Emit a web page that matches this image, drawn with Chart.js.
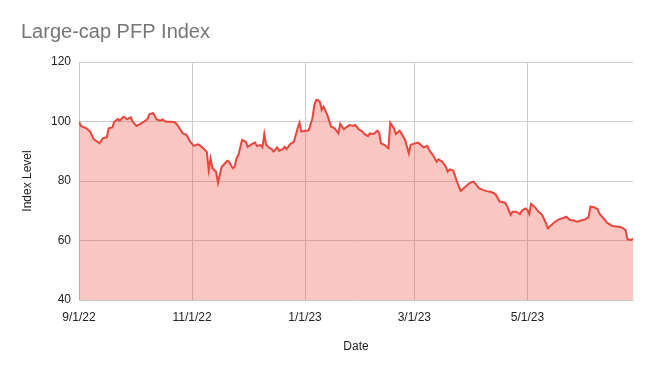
<!DOCTYPE html>
<html lang="en">
<head>
  <meta charset="UTF-8">
  <title>Large-cap PFP Index</title>
  <script src="https://cdn.jsdelivr.net/npm/chart.js"></script>
  <style>
    * { margin: 0; padding: 0; box-sizing: border-box; }
    body { background: #ffffff; width: 652px; height: 371px; overflow: hidden; }
    canvas { display: block; }
  </style>
</head>
<body>
  <canvas id="pfpChart" width="652" height="371"></canvas>

  <script>
    // Chart text
    const chartTitle = 'Large-cap PFP Index';
    const xAxisTitle = 'Date';
    const yAxisTitle = 'Index Level';

    // X ticks: days since 9/1/22 and their labels
    const tickDays = [0, 61, 122, 181, 242];
    const tickLabels = ['9/1/22', '11/1/22', '1/1/23', '3/1/23', '5/1/23'];

    // Series: day offset from 9/1/22 and index level
    const dayOffsets = [
      0, 1, 4, 6, 8, 10, 11, 13, 15, 16, 18, 19, 21, 22, 24, 26, 28, 29, 31, 33,
      35, 37, 38, 40, 42, 44, 45, 47, 50, 52, 54, 56, 58, 60, 62, 64, 65, 67, 69, 70,
      71, 72, 74, 75, 77, 78, 80, 81, 83, 84, 85, 86, 88, 90, 91, 93, 95, 96, 98, 99,
      100, 101, 103, 104, 105, 107, 108, 110, 111, 112, 114, 116, 117, 118, 119, 120, 122, 123, 124, 126,
      127, 128, 129, 130, 131, 132, 134, 135, 136, 138, 140, 141, 143, 144, 146, 148, 149, 151, 153, 154,
      156, 157, 159, 161, 162, 163, 165, 167, 168, 170, 171, 173, 174, 176, 178, 179, 180, 183, 184, 186,
      188, 189, 191, 193, 194, 196, 198, 199, 200, 202, 204, 206, 207, 209, 211, 213, 215, 216, 218, 220,
      222, 224, 225, 227, 230, 231, 233, 234, 236, 238, 239, 241, 242, 243, 244, 246, 248, 250, 252, 253,
      255, 257, 259, 261, 263, 265, 267, 269, 271, 273, 275, 276, 278, 280, 281, 283, 285, 287, 288, 291,
      293, 295, 296, 298, 299
    ];
    const indexLevels = [
      100.0, 98.5, 97.7, 96.6, 94.0, 93.2, 92.7, 94.4, 94.7, 97.7, 98.0, 99.9, 100.8, 100.3, 101.6, 100.8, 101.4, 99.9, 98.5, 99.1,
      99.9, 100.8, 102.5, 102.8, 100.7, 100.3, 100.7, 99.9, 99.9, 99.7, 98.0, 96.0, 95.5, 93.2, 91.8, 92.3, 92.1, 91.0, 89.8, 83.7,
      87.6, 84.3, 83.1, 79.4, 84.8, 85.4, 86.8, 86.5, 84.3, 84.8, 87.6, 88.7, 93.8, 93.2, 91.5, 92.3, 92.9, 91.8, 92.1, 91.3,
      95.8, 92.1, 91.0, 90.7, 89.9, 91.3, 90.2, 90.7, 91.5, 90.7, 92.4, 93.2, 95.5, 97.7, 99.6, 96.6, 96.9, 96.9, 97.1, 101.1,
      105.5, 107.2, 107.2, 106.6, 103.9, 105.0, 102.2, 100.3, 98.3, 97.7, 96.0, 99.2, 97.4, 98.0, 98.8, 98.5, 98.8, 97.4, 96.6, 95.8,
      95.1, 96.0, 95.8, 96.9, 96.2, 92.7, 92.1, 91.0, 99.6, 97.7, 95.8, 96.9, 96.0, 93.8, 89.3, 92.1, 92.4, 92.9, 92.4, 91.3,
      91.8, 90.4, 88.7, 86.5, 87.3, 86.5, 84.8, 83.1, 83.9, 83.5, 79.8, 76.7, 77.2, 78.3, 79.4, 79.8, 78.3, 77.5, 77.0, 76.6,
      76.4, 75.9, 75.3, 73.1, 72.7, 71.6, 68.6, 69.7, 69.7, 68.9, 70.0, 70.8, 70.3, 68.9, 72.3, 71.2, 69.7, 68.6, 65.8, 64.1,
      65.2, 66.3, 67.1, 67.5, 68.0, 66.9, 66.7, 66.3, 66.7, 67.1, 67.8, 71.4, 71.2, 70.5, 68.9, 67.5, 66.0, 65.2, 64.9, 64.6,
      64.4, 63.5, 60.4, 60.2, 60.7
    ];

    const fontFamily = '"Liberation Sans", Arial, sans-serif';

    // Draw the chart title in the top-left corner
    const titlePlugin = {
      id: 'sheetTitle',
      afterDraw(chart) {
        const ctx = chart.ctx;
        ctx.save();
        ctx.font = '20px ' + fontFamily;
        ctx.fillStyle = '#757575';
        ctx.textAlign = 'left';
        ctx.textBaseline = 'alphabetic';
        ctx.fillText(chartTitle, 21, 38);
        ctx.restore();
      }
    };

    const ctx = document.getElementById('pfpChart').getContext('2d');
    new Chart(ctx, {
      type: 'line',
      data: {
        datasets: [{
          label: yAxisTitle,
          data: dayOffsets.map((d, i) => ({ x: d, y: indexLevels[i] })),
          borderColor: '#e8453c',
          backgroundColor: 'rgba(234, 67, 53, 0.3)',
          borderWidth: 2,
          pointRadius: 0,
          fill: 'start',
          tension: 0
        }]
      },
      options: {
        responsive: false,
        animation: false,
        layout: { padding: { top: 62, right: 19, left: 0, bottom: 0 } },
        plugins: {
          legend: { display: false },
          tooltip: { enabled: false }
        },
        scales: {
          x: {
            type: 'linear',
            min: 0,
            max: 299,
            afterBuildTicks: scale => {
              scale.ticks = tickDays.map(v => ({ value: v }));
            },
            afterFit: scale => { scale.height = 71; },
            ticks: {
              autoSkip: false,
              maxRotation: 0,
              padding: 10,
              color: '#222222',
              font: { family: fontFamily, size: 12 },
              callback: value => tickLabels[tickDays.indexOf(value)]
            },
            grid: { color: '#cccccc', drawTicks: false },
            border: { color: '#cccccc' },
            title: {
              display: true,
              text: xAxisTitle,
              color: '#222222',
              font: { family: fontFamily, size: 12 },
              padding: { top: 0, bottom: 17 }
            }
          },
          y: {
            min: 40,
            max: 120,
            afterFit: scale => { scale.width = 79; },
            ticks: {
              stepSize: 20,
              padding: 8,
              color: '#222222',
              font: { family: fontFamily, size: 12 }
            },
            grid: { color: '#cccccc', drawTicks: false },
            border: { color: '#cccccc' },
            title: {
              display: true,
              text: yAxisTitle,
              color: '#222222',
              font: { family: fontFamily, size: 12 },
              padding: { top: 20, bottom: 0 }
            }
          }
        }
      },
      plugins: [titlePlugin]
    });
  </script>
</body>
</html>
